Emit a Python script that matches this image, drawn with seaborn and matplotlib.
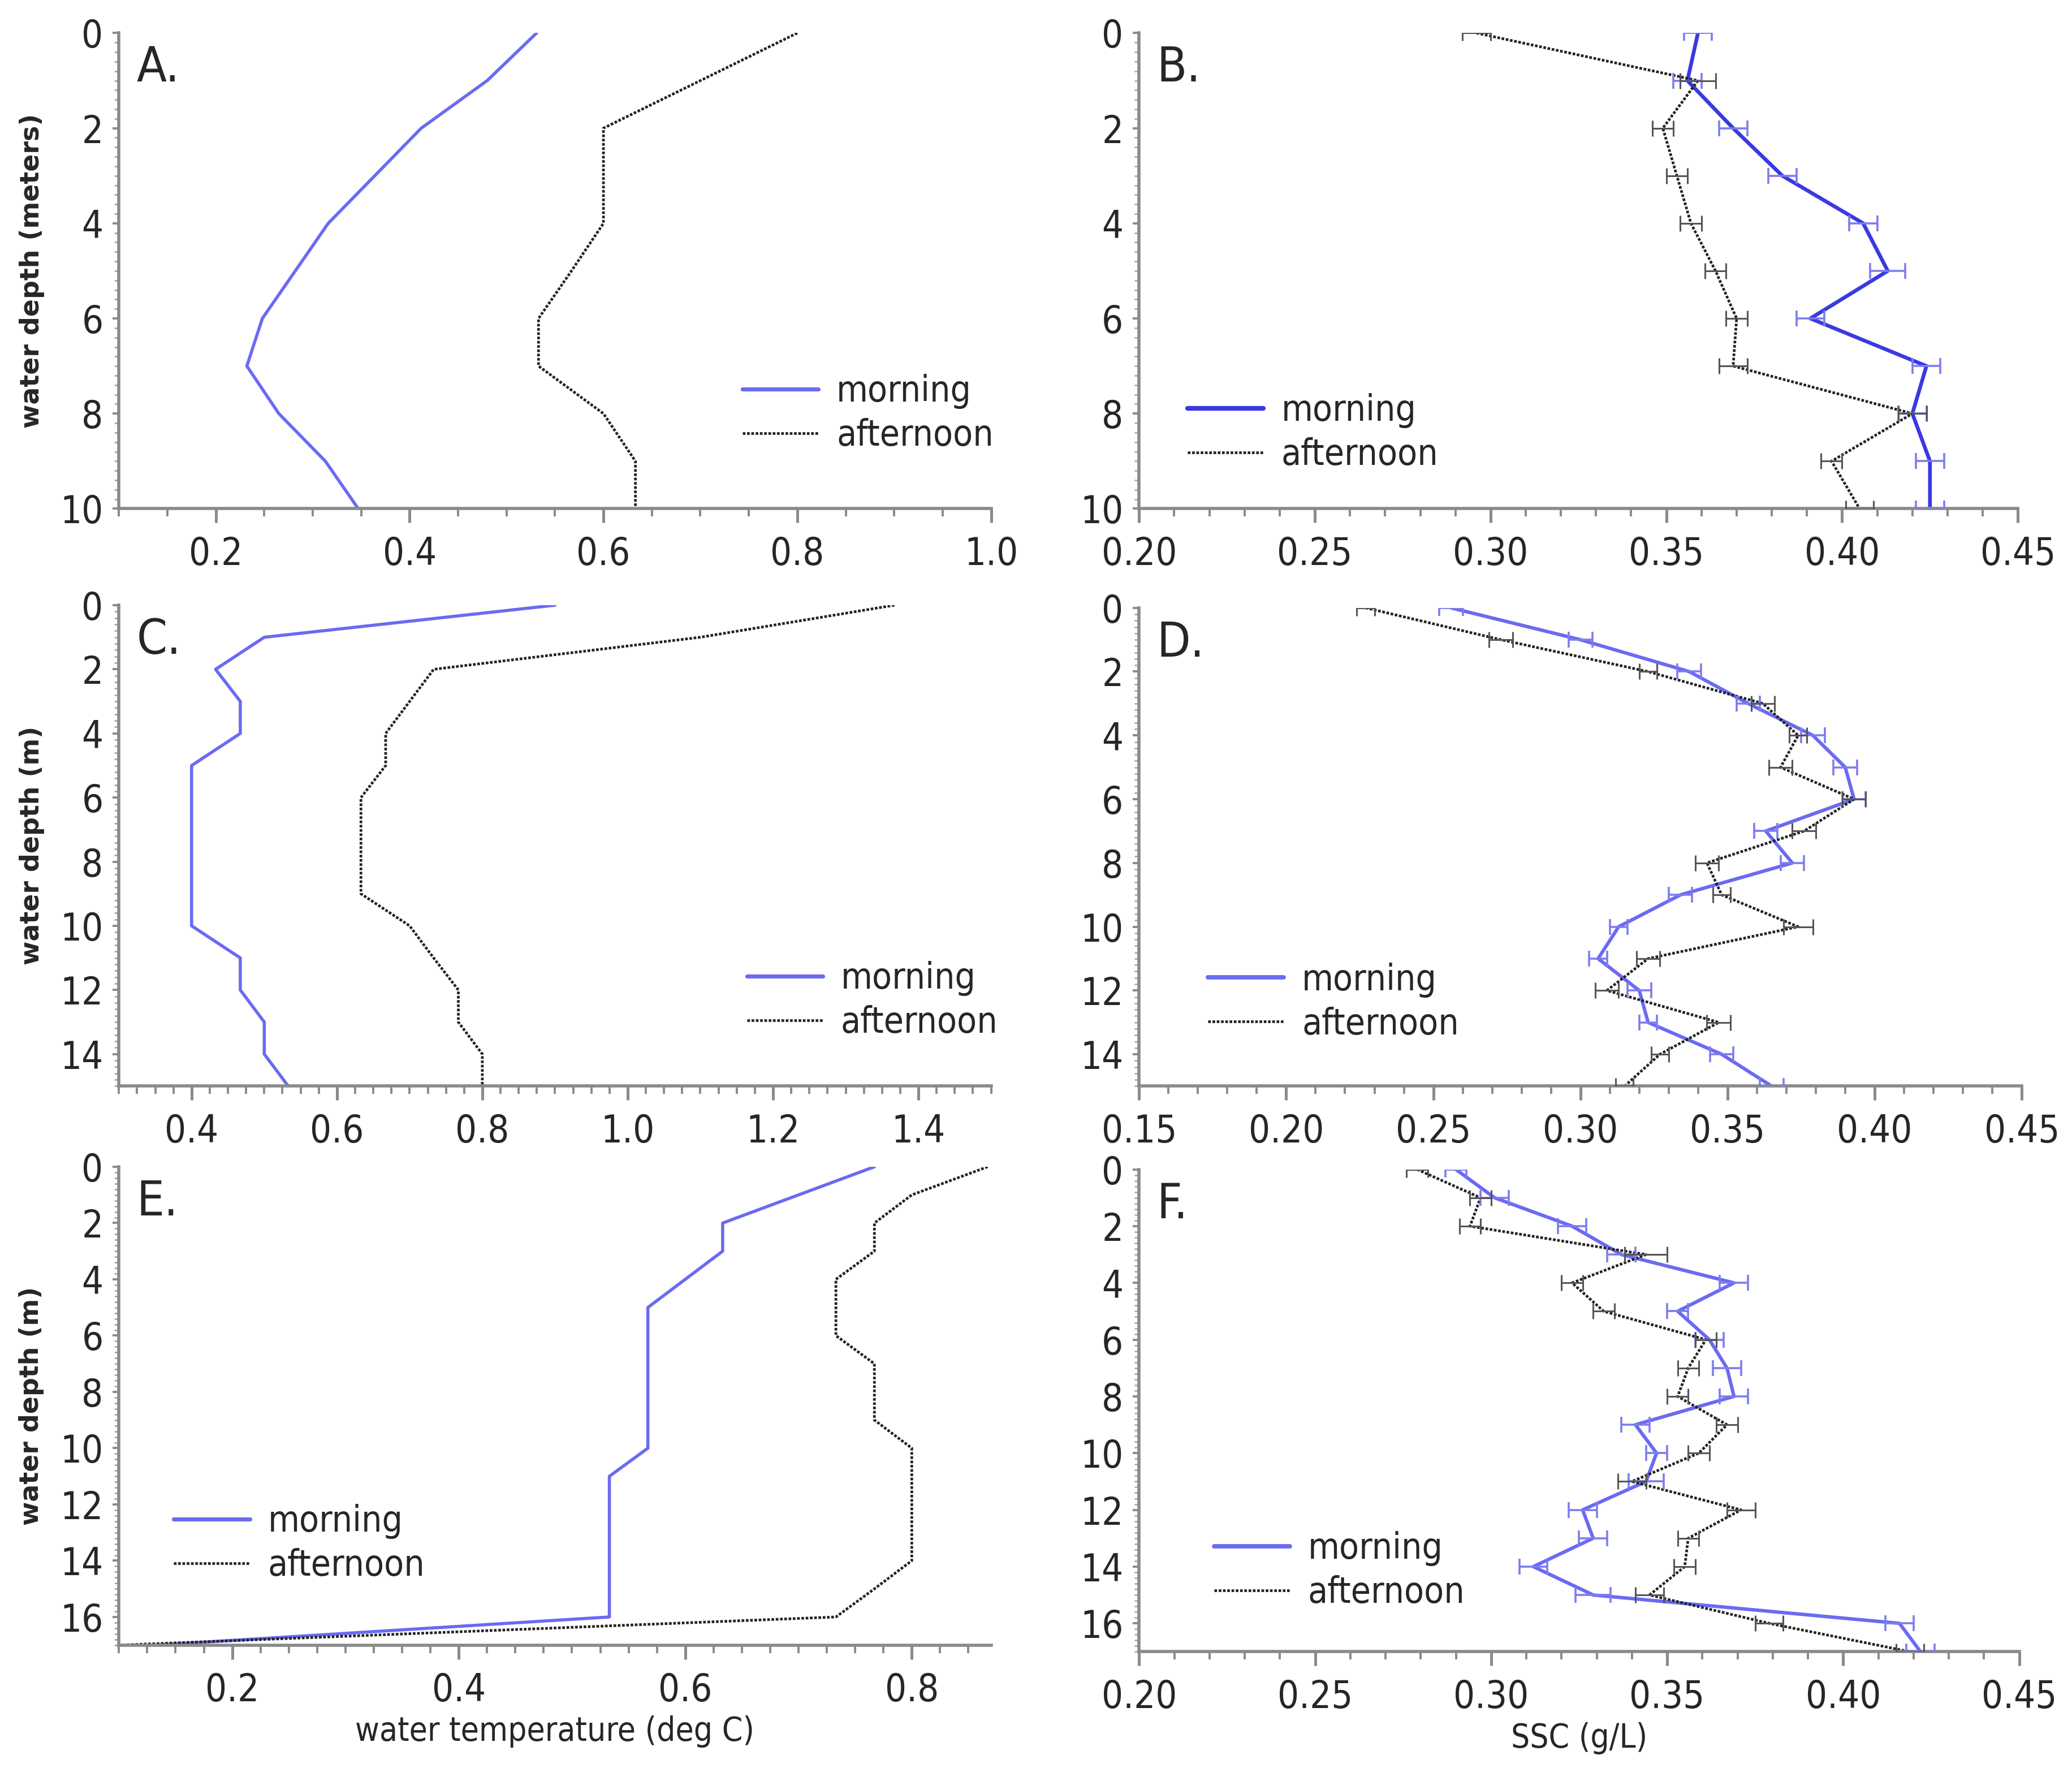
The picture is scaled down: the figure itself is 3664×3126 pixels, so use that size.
import numpy as np
import pandas as pd
import matplotlib
matplotlib.use("Agg")
import matplotlib.pyplot as plt
from matplotlib.lines import Line2D
from matplotlib.ticker import MultipleLocator, FormatStrFormatter
import seaborn as sns

# ---------------- data ----------------
depth_A = [0, 1, 2, 3, 4, 5, 6, 7, 8, 9, 10]
A_morning = [0.531, 0.480, 0.412, 0.364, 0.316, 0.282, 0.248, 0.232, 0.265, 0.313, 0.347]
A_afternoon = [0.800, 0.700, 0.600, 0.600, 0.600, 0.567, 0.533, 0.533, 0.600, 0.633, 0.633]

depth_B = [0, 1, 2, 3, 4, 5, 6, 7, 8, 9, 10]
B_morning = [0.359, 0.356, 0.369, 0.383, 0.406, 0.413, 0.391, 0.424, 0.420, 0.425, 0.425]
B_morning_err = [0.004, 0.004, 0.004, 0.004, 0.004, 0.005, 0.004, 0.004, 0.004, 0.004, 0.004]
B_afternoon = [0.296, 0.359, 0.349, 0.353, 0.357, 0.364, 0.370, 0.369, 0.420, 0.397, 0.405]
B_afternoon_err = [0.004, 0.005, 0.003, 0.003, 0.003, 0.003, 0.003, 0.004, 0.004, 0.003, 0.004]

depth_C = [0, 1, 2, 3, 4, 5, 6, 7, 8, 9, 10, 11, 12, 13, 14, 15]
C_morning = [0.900, 0.500, 0.433, 0.467, 0.467, 0.400, 0.400, 0.400, 0.400, 0.400,
             0.400, 0.467, 0.467, 0.500, 0.500, 0.533]
C_afternoon = [1.367, 1.100, 0.733, 0.700, 0.667, 0.667, 0.633, 0.633, 0.633, 0.633,
               0.700, 0.733, 0.767, 0.767, 0.800, 0.800]

depth_D = [0, 1, 2, 3, 4, 5, 6, 7, 8, 9, 10, 11, 12, 13, 14, 15]
D_morning = [0.256, 0.300, 0.337, 0.357, 0.379, 0.390, 0.393, 0.363, 0.372, 0.334,
             0.313, 0.306, 0.320, 0.323, 0.348, 0.365]
D_morning_err = [0.004, 0.004, 0.004, 0.004, 0.004, 0.004, 0.004, 0.004, 0.004, 0.004,
                 0.003, 0.003, 0.004, 0.003, 0.004, 0.004]
D_afternoon = [0.227, 0.273, 0.323, 0.362, 0.374, 0.368, 0.393, 0.376, 0.343, 0.348,
               0.374, 0.323, 0.309, 0.347, 0.327, 0.315]
D_afternoon_err = [0.003, 0.004, 0.003, 0.004, 0.003, 0.004, 0.004, 0.004, 0.004, 0.003,
                   0.005, 0.004, 0.004, 0.004, 0.003, 0.003]

depth_E = [0, 1, 2, 3, 4, 5, 6, 7, 8, 9, 10, 11, 12, 13, 14, 15, 16, 17]
E_morning = [0.767, 0.700, 0.633, 0.633, 0.600, 0.567, 0.567, 0.567, 0.567, 0.567,
             0.567, 0.533, 0.533, 0.533, 0.533, 0.533, 0.533, 0.133]
E_afternoon = [0.867, 0.800, 0.767, 0.767, 0.733, 0.733, 0.733, 0.767, 0.767, 0.767,
               0.800, 0.800, 0.800, 0.800, 0.800, 0.767, 0.733, 0.100]

depth_F = [0, 1, 2, 3, 4, 5, 6, 7, 8, 9, 10, 11, 12, 13, 14, 15, 16, 17]
F_morning = [0.290, 0.301, 0.323, 0.337, 0.369, 0.353, 0.362, 0.367, 0.369, 0.341,
             0.347, 0.344, 0.326, 0.329, 0.312, 0.329, 0.416, 0.422]
F_morning_err = [0.003, 0.004, 0.004, 0.004, 0.004, 0.003, 0.004, 0.004, 0.004, 0.004,
                 0.003, 0.005, 0.004, 0.004, 0.004, 0.005, 0.004, 0.004]
F_afternoon = [0.279, 0.297, 0.294, 0.344, 0.323, 0.332, 0.361, 0.356, 0.353, 0.367,
               0.359, 0.340, 0.371, 0.356, 0.355, 0.345, 0.379, 0.419]
F_afternoon_err = [0.003, 0.003, 0.003, 0.006, 0.003, 0.003, 0.003, 0.003, 0.003, 0.003,
                   0.003, 0.004, 0.004, 0.003, 0.003, 0.004, 0.004, 0.004]

series_names = ["morning", "afternoon"]

# ---------------- style ----------------
sns.set_style("ticks")
plt.rcParams["font.family"] = ["DejaVu Sans"]
plt.rcParams["font.stretch"] = "condensed"

MORNING_LIGHT = "#6a6af2"
MORNING_DARK = "#3a3ae0"
AFTERNOON = "#222222"
SPINE = "#8a8a8a"
DOT = (0, (1, 0.6))

fig = plt.figure(figsize=(18.32, 15.63), dpi=200)

W, H = 1568.0, 1338.0
def box(l, r, t, b):
    return [l / W, 1 - b / H, (r - l) / W, (b - t) / H]

axA = fig.add_axes(box(90, 750, 25, 385))
axB = fig.add_axes(box(862, 1527, 25, 385))
axC = fig.add_axes(box(90, 750, 458, 822))
axD = fig.add_axes(box(862, 1530, 460, 822))
axE = fig.add_axes(box(90, 750, 883, 1245))
axF = fig.add_axes(box(862, 1528, 885, 1250))


def draw_panel(ax, depth, morning, afternoon, mcolor, mlw, m_err=None, a_err=None):
    df = pd.DataFrame({
        "depth": list(depth) * 2,
        "value": list(morning) + list(afternoon),
        "time": [series_names[0]] * len(depth) + [series_names[1]] * len(depth),
    })
    sns.lineplot(data=df[df["time"] == "morning"], x="value", y="depth", sort=False,
                 estimator=None, color=mcolor, linewidth=mlw, ax=ax, legend=False)
    sns.lineplot(data=df[df["time"] == "afternoon"], x="value", y="depth", sort=False,
                 estimator=None, color=AFTERNOON, linewidth=1.7, ax=ax, legend=False,
                 linestyle=DOT)
    if m_err is not None:
        ax.errorbar(morning, depth, xerr=m_err, fmt="none", ecolor="#7c7cf0",
                    elinewidth=1.3, capsize=5, capthick=1.3, zorder=3)
    if a_err is not None:
        ax.errorbar(afternoon, depth, xerr=a_err, fmt="none", ecolor="#555555",
                    elinewidth=1.1, capsize=5, capthick=1.1, zorder=3)


def style_axes(ax, xlim, xticks, xminor, fmt, ymax, label, ylabel=None, xlabel=None):
    ax.set_xlim(*xlim)
    ax.set_ylim(ymax, 0)
    ax.set_xticks(xticks)
    ax.xaxis.set_minor_locator(MultipleLocator(xminor))
    ax.xaxis.set_major_formatter(FormatStrFormatter(fmt))
    ax.set_yticks(np.arange(0, ymax + 0.01, 2))
    ax.yaxis.set_minor_locator(MultipleLocator(0.2))
    for s in ["top", "right"]:
        ax.spines[s].set_visible(False)
    for s in ["left", "bottom"]:
        ax.spines[s].set_color(SPINE)
        ax.spines[s].set_linewidth(2.0)
    ax.tick_params(axis="x", which="major", length=9, width=1.8, color=SPINE,
                   labelsize=24, pad=8, direction="out")
    ax.tick_params(axis="x", which="minor", length=5, width=1.4, color=SPINE, direction="out")
    ax.tick_params(axis="y", which="major", length=4, width=1.4, color=SPINE,
                   labelsize=24, pad=6, direction="out")
    ax.tick_params(axis="y", which="minor", length=3, width=1.0, color="#aaaaaa", direction="out")
    ax.set_xlabel(xlabel if xlabel else "", fontsize=21, labelpad=4)
    if ylabel:
        ax.set_ylabel(ylabel, fontsize=16.5, family="DejaVu Sans", fontstretch="normal",
                      fontweight="bold", labelpad=10)
    else:
        ax.set_ylabel("")
    ax.text(0.02, 0.975, label, transform=ax.transAxes, fontsize=31, va="top", ha="left")


def add_legend(ax, x, ymid, mcolor, mlw):
    handles = [Line2D([0], [0], color=mcolor, lw=mlw + 0.6),
               Line2D([0], [0], color=AFTERNOON, lw=1.7, linestyle=DOT)]
    ax.legend(handles, series_names, loc="center left", bbox_to_anchor=(x, ymid),
              frameon=False, fontsize=23, handlelength=2.1, handletextpad=0.5,
              borderpad=0, borderaxespad=0, labelspacing=0.25)


draw_panel(axA, depth_A, A_morning, A_afternoon, MORNING_LIGHT, 2.0)
style_axes(axA, (0.1, 1.0), [0.2, 0.4, 0.6, 0.8, 1.0], 0.05, "%.1f", 10, "A.",
           ylabel="water depth (meters)")
add_legend(axA, 0.715, 0.20, MORNING_LIGHT, 2.0)

draw_panel(axB, depth_B, B_morning, B_afternoon, MORNING_DARK, 2.4, B_morning_err, B_afternoon_err)
style_axes(axB, (0.20, 0.45), [0.20, 0.25, 0.30, 0.35, 0.40, 0.45], 0.01, "%.2f", 10, "B.")
add_legend(axB, 0.055, 0.16, MORNING_DARK, 2.4)

draw_panel(axC, depth_C, C_morning, C_afternoon, MORNING_LIGHT, 2.0)
style_axes(axC, (0.3, 1.5), [0.4, 0.6, 0.8, 1.0, 1.2, 1.4], 0.025, "%.1f", 15, "C.",
           ylabel="water depth (m)")
add_legend(axC, 0.72, 0.178, MORNING_LIGHT, 2.0)

draw_panel(axD, depth_D, D_morning, D_afternoon, MORNING_LIGHT, 2.2, D_morning_err, D_afternoon_err)
style_axes(axD, (0.15, 0.45), [0.15, 0.20, 0.25, 0.30, 0.35, 0.40, 0.45], 0.01, "%.2f", 15, "D.")
add_legend(axD, 0.078, 0.176, MORNING_LIGHT, 2.2)

draw_panel(axE, depth_E, E_morning, E_afternoon, MORNING_LIGHT, 2.0)
style_axes(axE, (0.1, 0.87), [0.2, 0.4, 0.6, 0.8], 0.025, "%.1f", 17, "E.",
           ylabel="water depth (m)", xlabel="water temperature (deg C)")
add_legend(axE, 0.063, 0.212, MORNING_LIGHT, 2.0)

draw_panel(axF, depth_F, F_morning, F_afternoon, MORNING_LIGHT, 2.2, F_morning_err, F_afternoon_err)
style_axes(axF, (0.20, 0.45), [0.20, 0.25, 0.30, 0.35, 0.40, 0.45], 0.01, "%.2f", 17, "F.",
           xlabel="SSC (g/L)")
add_legend(axF, 0.085, 0.168, MORNING_LIGHT, 2.2)

fig.savefig("out.png", dpi=200)
